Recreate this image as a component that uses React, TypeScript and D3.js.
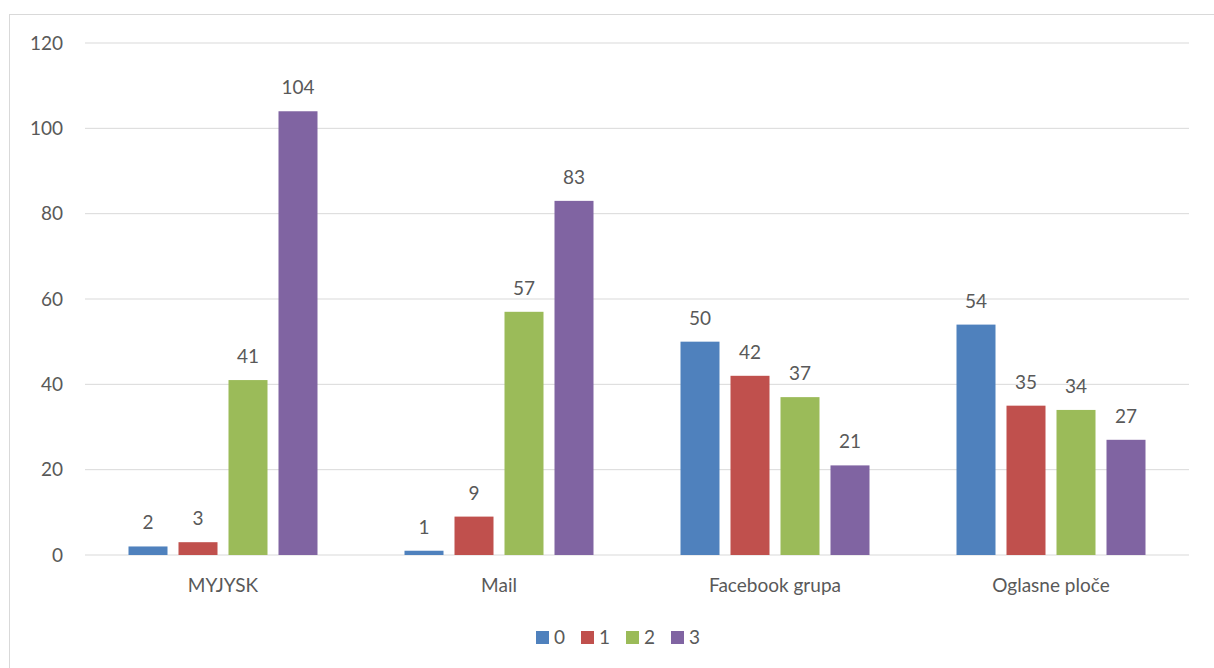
import { useMemo } from "react";
import * as d3 from "d3";

const categories = ["MYJYSK", "Mail", "Facebook grupa", "Oglasne ploče"];
const seriesNames = ["0", "1", "2", "3"];
const series0 = [2, 1, 50, 54];
const series1 = [3, 9, 42, 35];
const series2 = [41, 57, 37, 34];
const series3 = [104, 83, 21, 27];
const yTicks = [0, 20, 40, 60, 80, 100, 120];

const colors = ["#4F81BD", "#C0504D", "#9BBB59", "#8064A2"];
const WIDTH = 1214;
const HEIGHT = 668;
const PLOT = { left: 85, right: 1189, top: 43, bottom: 555 };
const FONT = "Lato, 'Open Sans', sans-serif";
const TEXT = "#595959";
const FS = 19;

export default function App() {
  const allSeries = [series0, series1, series2, series3];

  const x = useMemo(
    () => d3.scaleBand<string>().domain(categories).range([PLOT.left, PLOT.right]).paddingInner(0).paddingOuter(0),
    []
  );
  const y = useMemo(() => d3.scaleLinear().domain([0, 120]).range([PLOT.bottom, PLOT.top]), []);
  const inner = useMemo(
    () =>
      d3
        .scaleBand<string>()
        .domain(seriesNames)
        .range([0, x.bandwidth()])
        .paddingInner(11 / 50)
        .paddingOuter(0.87),
    [x]
  );

  const legendStep = 45;
  const legendX0 = 536;

  return (
    <svg width={WIDTH} height={HEIGHT} style={{ position: "absolute", left: 0, top: 0, background: "#fff" }}>
      <rect x={9.5} y={14.5} width={1210} height={660} fill="#fff" stroke="#d9d9d9" strokeWidth={1} />
      {yTicks.map((t) => (
        <g key={t}>
          <line x1={PLOT.left} x2={PLOT.right} y1={y(t)} y2={y(t)} stroke="#d9d9d9" strokeWidth={1} />
          <text x={63} y={y(t)} dy="0.35em" textAnchor="end" fontFamily={FONT} fontSize={FS} fill={TEXT}>
            {t}
          </text>
        </g>
      ))}
      {categories.map((c, ci) => (
        <g key={c}>
          {allSeries.map((s, si) => {
            const bx = (x(c) ?? 0) + (inner(seriesNames[si]) ?? 0);
            const v = s[ci];
            return (
              <g key={si}>
                <rect x={bx} y={y(v)} width={inner.bandwidth()} height={y(0) - y(v)} fill={colors[si]} />
                <text
                  x={bx + inner.bandwidth() / 2}
                  y={y(v) - 17}
                  textAnchor="middle"
                  fontFamily={FONT}
                  fontSize={FS}
                  fill={TEXT}
                >
                  {v}
                </text>
              </g>
            );
          })}
          <text
            x={(x(c) ?? 0) + x.bandwidth() / 2}
            y={592}
            textAnchor="middle"
            fontFamily={FONT}
            fontSize={FS}
            fill={TEXT}
          >
            {c}
          </text>
        </g>
      ))}
      {seriesNames.map((n, i) => (
        <g key={n} transform={`translate(${legendX0 + i * legendStep}, 631)`}>
          <rect x={0} y={0} width={13} height={13} fill={colors[i]} />
          <text x={18} y={13} fontFamily={FONT} fontSize={FS} fill={TEXT}>
            {n}
          </text>
        </g>
      ))}
    </svg>
  );
}
